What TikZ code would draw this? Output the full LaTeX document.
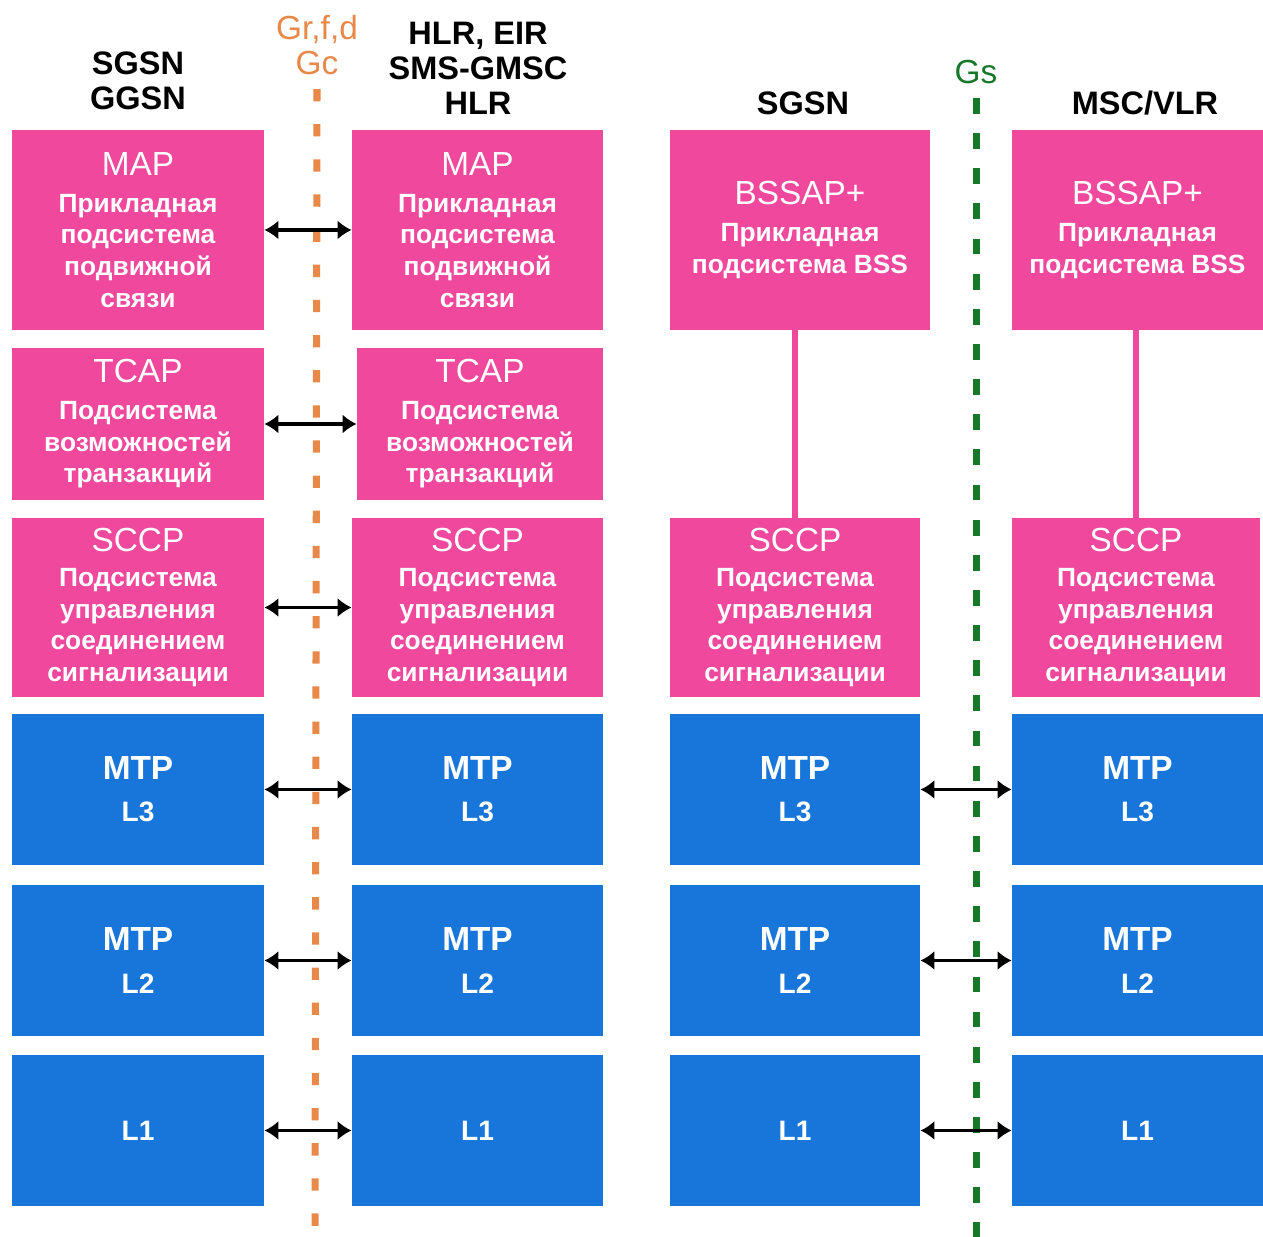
\documentclass[tikz,border=0pt]{standalone}
\usepackage{fontspec}
\setmainfont{Liberation Sans}
\usetikzlibrary{arrows.meta}
\definecolor{mpink}{HTML}{F0489C}
\definecolor{mblue}{HTML}{1876DA}
\definecolor{gorange}{HTML}{E8894A}
\definecolor{ggreen}{HTML}{18782A}
\newcommand{\ttl}[1]{{\fontsize{19}{22}\selectfont\mdseries #1}}
\newcommand{\hdr}{\bfseries\fontsize{18.5}{20}\selectfont}

\begin{document}
\begin{tikzpicture}[x=0.02cm, y=-0.02cm,
	box/.style={inner sep=0pt, align=center, text=white, font=\bfseries\fontsize{15}{18}\selectfont},
	pinkbox/.style={box, fill=mpink},
	bluebox/.style={box, fill=mblue, minimum height=3.04cm},
	dbl/.style={{Latex[length=8pt,width=11pt]}-{Latex[length=8pt,width=11pt]}, line width=2.2pt, black},
	iface/.style={line width=4pt, dash pattern=on 7pt off 13pt}]
	\useasboundingbox[fill=white] (0,0) rectangle (1263,1236);

	% headers
	\node[font=\hdr, align=center] (hA) at (138,81) {SGSN\\GGSN};
	\node[font=\hdr, align=center] (hB) at (478,68) {HLR, EIR\\SMS-GMSC\\HLR};
	\node[font=\hdr] (hC) at (803,103) {SGSN};
	\node[font=\hdr] (hD) at (1145,103) {MSC/VLR};
	\node[font=\fontsize{19}{20}\selectfont, text=gorange, align=center] (gr) at (317,45) {Gr,f,d\\Gc};
	\node[font=\fontsize{19}{20}\selectfont, text=ggreen] (gs) at (976,72) {Gs};
	\coordinate (grEnd) at (315,1240);
	\coordinate (gsEnd) at (976,1240);
	\draw[iface, gorange] (gr.south) ++(0,8) -- (grEnd);
	\draw[iface, ggreen, dash pattern=on 9pt off 11pt] (gs.south) ++(0,8) -- (gsEnd);

	% MAP / TCAP / SCCP
	\node[pinkbox, minimum width=5.04cm, minimum height=4cm] (mapA) at (138,230)
		{\ttl{MAP}\\[3pt]Прикладная\\подсистема\\подвижной\\связи};
	\node[pinkbox, minimum width=5.02cm, minimum height=4cm] (mapB) at (477.5,230)
		{\ttl{MAP}\\[3pt]Прикладная\\подсистема\\подвижной\\связи};
	\node[pinkbox, minimum width=5.04cm, minimum height=3.04cm] (tcapA) at (138,424)
		{\ttl{TCAP}\\[3pt]Подсистема\\возможностей\\транзакций};
	\node[pinkbox, minimum width=4.92cm, minimum height=3.04cm] (tcapB) at (480,424)
		{\ttl{TCAP}\\[3pt]Подсистема\\возможностей\\транзакций};
	\node[pinkbox, minimum width=5.04cm, minimum height=3.58cm] (sccpA) at (138,607.5)
		{\ttl{SCCP}\\[2pt]Подсистема\\управления\\соединением\\сигнализации};
	\node[pinkbox, minimum width=5.02cm, minimum height=3.58cm] (sccpB) at (477.5,607.5)
		{\ttl{SCCP}\\[2pt]Подсистема\\управления\\соединением\\сигнализации};
	\node[pinkbox, minimum width=5.2cm, minimum height=4cm] (bssapC) at (800,230)
		{\ttl{BSSAP+}\\[3pt]Прикладная\\подсистема BSS};
	\node[pinkbox, minimum width=5.02cm, minimum height=4cm] (bssapD) at (1137.5,230)
		{\ttl{BSSAP+}\\[3pt]Прикладная\\подсистема BSS};
	\node[pinkbox, minimum width=5cm, minimum height=3.58cm] (sccpC) at (795,607.5)
		{\ttl{SCCP}\\[2pt]Подсистема\\управления\\соединением\\сигнализации};
	\node[pinkbox, minimum width=4.96cm, minimum height=3.58cm] (sccpD) at (1136,607.5)
		{\ttl{SCCP}\\[2pt]Подсистема\\управления\\соединением\\сигнализации};
	\draw[mpink, line width=3.4pt] (sccpC.north) -- (sccpC.north |- bssapC.south);
	\draw[mpink, line width=3.4pt] (sccpD.north) -- (sccpD.north |- bssapD.south);

	\draw[dbl] (mapA.east) -- (mapB.west);
	\draw[dbl] (tcapA.east) -- (tcapB.west);
	\draw[dbl] (sccpA.east) -- (sccpB.west);

	% MTP levels
	\foreach \nm/\y/\txt in {three/789.5/{MTP\\[4pt]{\fontsize{16}{18}\selectfont L3}},
		two/960.5/{MTP\\[4pt]{\fontsize{16}{18}\selectfont L2}},
		one/1130.5/{\fontsize{16}{18}\selectfont L1}}{
		\node[bluebox, minimum width=5.04cm, font=\bfseries\fontsize{19}{20}\selectfont] (l\nm A) at (138,\y) {\txt};
		\node[bluebox, minimum width=5.02cm, font=\bfseries\fontsize{19}{20}\selectfont] (l\nm B) at (477.5,\y) {\txt};
		\node[bluebox, minimum width=5cm, font=\bfseries\fontsize{19}{20}\selectfont] (l\nm C) at (795,\y) {\txt};
		\node[bluebox, minimum width=5.02cm, font=\bfseries\fontsize{19}{20}\selectfont] (l\nm D) at (1137.5,\y) {\txt};
		\draw[dbl] (l\nm A.east) -- (l\nm B.west);
		\draw[dbl] (l\nm C.east) -- (l\nm D.west);
	}
\end{tikzpicture}
\end{document}
